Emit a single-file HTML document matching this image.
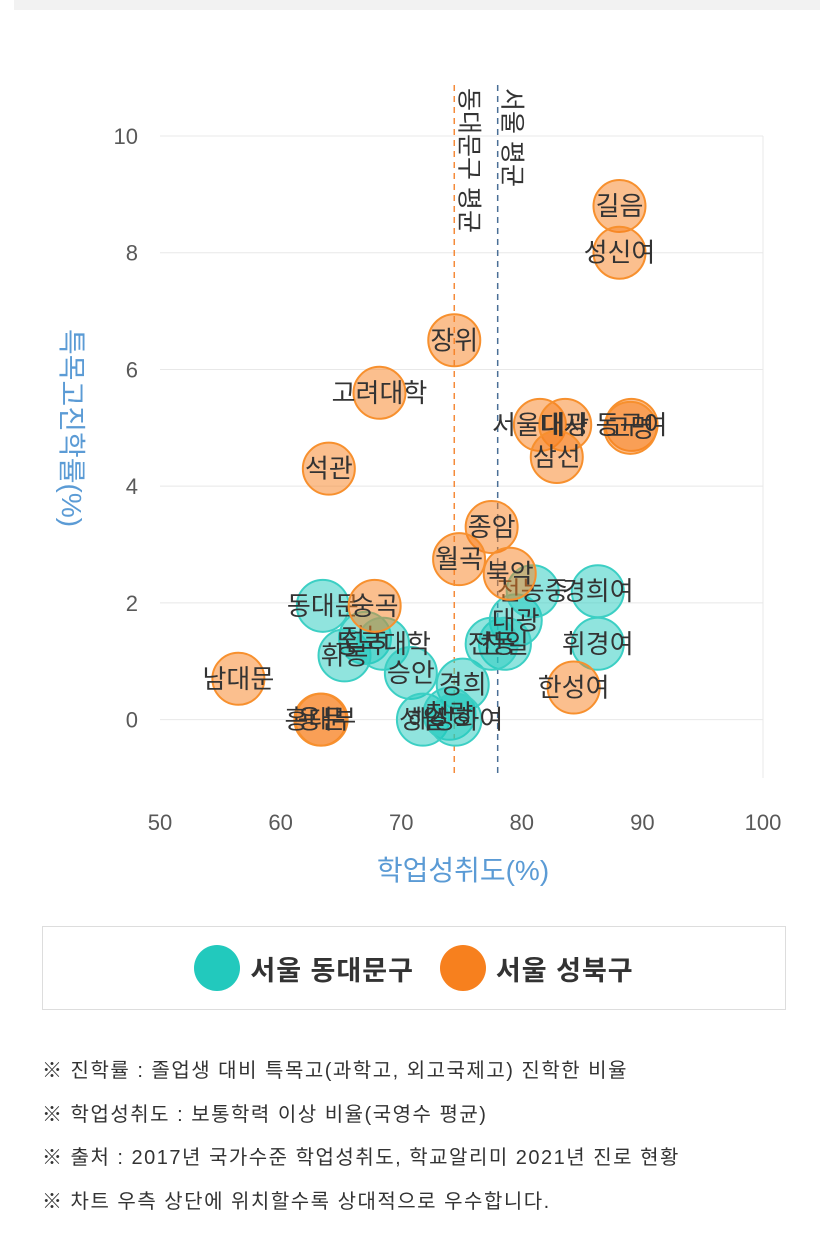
<!DOCTYPE html>
<html><head><meta charset="utf-8"><style>
body{margin:0;background:#fff;width:827px;height:1240px;overflow:hidden;font-family:"Liberation Sans","Noto Sans CJK KR",sans-serif}
.note{position:absolute;left:42px;font-size:20px;letter-spacing:1.5px;color:#333;white-space:nowrap}
</style></head><body>
<div style="position:absolute;left:14px;top:0;width:806px;height:10px;background:#f2f2f2"></div>
<svg id="chart" width="827" height="900" style="position:absolute;left:0;top:0" font-family="Liberation Sans, Noto Sans CJK KR, sans-serif"></svg>
<div style="position:absolute;left:42px;top:926px;width:744px;height:84px;border:1px solid #ddd;box-sizing:border-box;display:flex;justify-content:center;align-items:center;gap:26px;font-size:27px;font-weight:bold;color:#333;letter-spacing:1px">
 <span style="display:flex;align-items:center;gap:10px"><span style="width:46px;height:46px;border-radius:50%;background:#22c9bd;display:inline-block"></span>서울 동대문구</span>
 <span style="display:flex;align-items:center;gap:10px"><span style="width:46px;height:46px;border-radius:50%;background:#f7801e;display:inline-block"></span>서울 성북구</span>
</div>
<div class="note" style="top:1054px">※ 진학률 : 졸업생 대비 특목고(과학고, 외고국제고) 진학한 비율</div>
<div class="note" style="top:1098px">※ 학업성취도 : 보통학력 이상 비율(국영수 평균)</div>
<div class="note" style="top:1141px">※ 출처 : 2017년 국가수준 학업성취도, 학교알리미 2021년 진로 현황</div>
<div class="note" style="top:1185px">※ 차트 우측 상단에 위치할수록 상대적으로 우수합니다.</div>
<script>
const xTicks=[50,60,70,80,90,100];
const yTicks=[0,2,4,6,8,10];
const seongbukNames=["길음","성신여","장위","고려대학","석관","서울대사","대광","삼선","동구여","고명","종암","월곡","북악","숭곡","남대문","홍대부","용문","한성여"];
const seongbukX=[88.1,88.1,74.4,68.2,64.0,81.5,83.6,82.9,89.1,89.0,77.5,74.8,79.0,67.8,56.5,63.3,63.4,84.3];
const seongbukY=[8.8,8.0,6.5,5.6,4.3,5.05,5.05,4.5,5.05,5.0,3.3,2.75,2.5,1.95,0.7,0.0,0.0,0.55];
const ddmNames=["동대문","전농","휘봉","동국대학","승안","경희","성일","청량","해성화여","대광","찬일","전동","전농중","경희여","휘경여"];
const ddmX=[63.5,67.0,65.3,68.5,70.8,75.1,71.8,74.0,74.5,79.5,78.6,77.5,80.9,86.3,86.3];
const ddmY=[1.95,1.4,1.1,1.3,0.8,0.6,0.0,0.1,0.0,1.7,1.3,1.3,2.2,2.2,1.3];
const avgValues=[74.4,78.0];
const avgLabels=["동대문구 평균","서울 평균"];
const NS="http://www.w3.org/2000/svg";
const svg=document.getElementById('chart');
const X0=160,X1=763,Y0=778,Y1=136;
const sx=v=>X0+(v-50)/50*(X1-X0);
const sy=v=>Y0-(v+1)/11*(Y0-Y1);
function mk(t,a){const e=document.createElementNS(NS,t);for(const k in a)e.setAttribute(k,a[k]);svg.appendChild(e);return e;}
yTicks.forEach(t=>{
 const g=mk('line',{x1:X0,x2:X1,y1:sy(t),y2:sy(t),stroke:'#e8e8e8'});
 
 
 const l=mk('text',{x:X0-22,y:sy(t)+8,'text-anchor':'end','font-size':22,fill:'#595959'});l.textContent=t;
 
 
});
const rb=mk('line',{x1:X1,x2:X1,y1:Y1,y2:Y0,stroke:'#e8e8e8'});


xTicks.forEach(t=>{
 const l=mk('text',{x:sx(t),y:Y0+52,'text-anchor':'middle','font-size':22,fill:'#595959'});l.textContent=t;
 
 
});
const cols=['#f58a3a','#4a6f96'];
avgValues.forEach((v,i)=>{
 const ln=mk('line',{x1:sx(v),x2:sx(v),y1:85,y2:Y0,stroke:cols[i],'stroke-width':1.5,'stroke-dasharray':'6,5'});
 
 
 const t=mk('text',{x:0,y:0,'font-size':25,fill:'#333',transform:`translate(${sx(v)+6},88) rotate(90)`});t.textContent=avgLabels[i];
 
 
});
function series(names,xs,ys,fill,stroke,nm){
 names.forEach((n,i)=>{
  const c=mk('circle',{cx:sx(xs[i]),cy:sy(ys[i]),r:26,fill:fill,stroke:stroke,'stroke-width':2});
  
  
 });
 names.forEach((n,i)=>{
  const t=mk('text',{x:sx(xs[i]),y:sy(ys[i])+9,'text-anchor':'middle','font-size':26,fill:'#333'});t.textContent=n;
  
  
 });
}
series(ddmNames,ddmX,ddmY,'rgba(34,201,189,0.5)','#3ccfc4','dongdaemun');
series(seongbukNames,seongbukX,seongbukY,'rgba(247,128,30,0.5)','#f7902e','seongbuk');
const xt=mk('text',{x:463,y:880,'text-anchor':'middle','font-size':28,fill:'#5b9bd5'});xt.textContent='학업성취도(%)';


const yt=mk('text',{x:0,y:0,'text-anchor':'middle','font-size':28,fill:'#5b9bd5',transform:'translate(62,428) rotate(90)'});yt.textContent='특목고진학률(%)';


</script>
</body></html>
